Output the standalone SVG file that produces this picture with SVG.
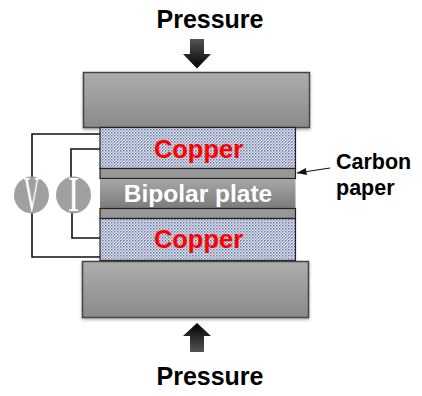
<svg xmlns="http://www.w3.org/2000/svg" width="422" height="396" viewBox="0 0 422 396">
<style>
text{font-family:"Liberation Sans",Arial,sans-serif;font-weight:bold}
.lbl{font-size:25px;fill:#000;text-anchor:middle}
.cu{font-size:25.500px;fill:#f00;text-anchor:middle}
.side{font-size:21.500px;fill:#000}
.block{fill:url(#gb);stroke:#444;stroke-width:1.5;filter:url(#sh)}
.copper{fill:url(#dots);stroke:#222;stroke-width:1.2}
.carbon{fill:#979797;stroke:#222;stroke-width:1.2}
.wire{fill:none;stroke:#111;stroke-width:1.6}
.meter{fill:#a0a0a0}
.mtxt{font-family:"Liberation Serif",serif;font-weight:normal;font-size:50px;fill:#fff;text-anchor:middle}
</style>
<defs>
<linearGradient id="gb" x1="0" y1="0" x2="0" y2="1"><stop offset="0" stop-color="#adadad"/><stop offset="1" stop-color="#8a8a8a"/></linearGradient>
<linearGradient id="gp" x1="0" y1="0" x2="0" y2="1"><stop offset="0" stop-color="#a6a6a6"/><stop offset="1" stop-color="#7c7c7c"/></linearGradient>
<linearGradient id="ga" x1="0" y1="0" x2="0" y2="1"><stop offset="0" stop-color="#555"/><stop offset="1" stop-color="#000"/></linearGradient>
<linearGradient id="gu" x1="0" y1="1" x2="0" y2="0"><stop offset="0" stop-color="#555"/><stop offset="1" stop-color="#000"/></linearGradient>
<pattern id="dots" width="3" height="3" patternUnits="userSpaceOnUse"><rect width="3" height="3" fill="#e8ecf5"/><rect width="1.500" height="1.500" fill="#5f6fa0"/><rect x="1.500" y="1.500" width="1.500" height="1.500" fill="#98a3c2"/></pattern>
<filter id="sh" x="-5%" y="-5%" width="110%" height="115%"><feDropShadow dx="0" dy="1.500" stdDeviation="1.500" flood-color="#000" flood-opacity=".35"/></filter>
<marker id="ah" markerUnits="userSpaceOnUse" markerWidth="10" markerHeight="7" refX="9.500" refY="3.500" orient="auto"><path d="M0 0L10 3.500L0 7Z" fill="#111"/></marker>
</defs>
<g id="connectors">
<path class="wire" d="M100 134H32V257H100"/>
<path class="wire" d="M100 149H71V180"/>
<path class="wire" d="M72 210V238H100"/>
<path d="M330 168L297 173" fill="none" stroke="#111" stroke-width="1.200" marker-end="url(#ah)"/>
</g>
<g id="pressure-top"><text class="lbl" x="210" y="28">Pressure</text><path d="M190 39H204V54H211L197 68.500L183 54H190Z" fill="url(#ga)"/></g>
<g id="top-block"><rect class="block" x="83.500" y="72.500" width="226" height="55"/></g>
<g id="copper-top"><rect class="copper" x="100" y="127.500" width="195.500" height="41"/><text class="cu" x="198.500" y="158">Copper</text></g>
<g id="carbon-top"><rect class="carbon" x="100" y="168.500" width="195.500" height="10"/></g>
<g id="bipolar-plate"><rect x="100" y="179" width="195.500" height="29" fill="url(#gp)"/><text x="198" y="202" font-size="24.500" fill="#fff" text-anchor="middle">Bipolar plate</text></g>
<g id="carbon-bottom"><rect class="carbon" x="100" y="208.500" width="195.500" height="10"/></g>
<g id="copper-bottom"><rect class="copper" x="100" y="218.500" width="195.500" height="42"/><text class="cu" x="198.500" y="248">Copper</text></g>
<g id="bottom-block"><rect class="block" x="82.500" y="261.500" width="226" height="56"/></g>
<g id="voltmeter"><ellipse class="meter" cx="31.500" cy="195" rx="17.500" ry="18.500"/><text class="mtxt" transform="translate(31.500 211) scale(.45 1)">V</text></g>
<g id="ammeter"><ellipse class="meter" cx="73.500" cy="195" rx="17.500" ry="18.500"/><text class="mtxt" transform="translate(73.500 211) scale(.7 1)">I</text></g>
<g id="carbon-label"><text class="side" x="336" y="169">Carbon</text><text class="side" x="336" y="195">paper</text></g>
<g id="pressure-bottom"><path d="M197 323L211 336H204V352H190V336H183Z" fill="url(#gu)"/><text class="lbl" x="210" y="385">Pressure</text></g>
</svg>
